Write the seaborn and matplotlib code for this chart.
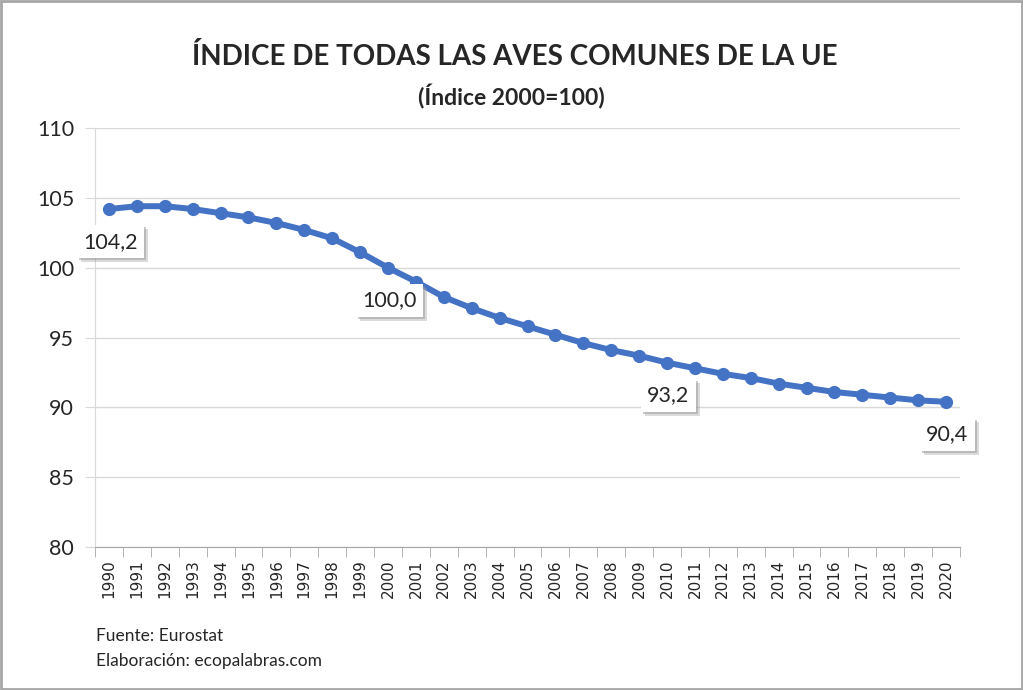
import pandas as pd
import seaborn as sns
import matplotlib.pyplot as plt
import matplotlib.patheffects as pe
from matplotlib.patches import Rectangle

years = list(range(1990, 2021))
indice = [104.2, 104.4, 104.4, 104.2, 103.9, 103.6, 103.2, 102.7, 102.1, 101.1,
          100.0, 99.0, 97.9, 97.1, 96.4, 95.8, 95.2, 94.6, 94.1, 93.7,
          93.2, 92.8, 92.4, 92.1, 91.7, 91.4, 91.1, 90.9, 90.7, 90.5, 90.4]
label_years = [1990, 2000, 2010, 2020]
y_ticks = [80, 85, 90, 95, 100, 105, 110]

df = pd.DataFrame({'Año': years, 'Índice': indice})

sns.set_style('white')
plt.rcParams['font.family'] = ['Lato', 'DejaVu Sans']

fig = plt.figure(figsize=(10.23, 6.9), dpi=100)
ax = fig.add_axes([0.0929, 0.2072, 0.8455, 0.6073])

sns.lineplot(data=df, x='Año', y='Índice', ax=ax, color='#4472C4', linewidth=4.3,
             marker='o', markersize=9.5, markeredgewidth=0)

ax.set_xlim(1989.5, 2020.5)
ax.set_ylim(80, 110)
ax.set_yticks(y_ticks)
ax.set_yticklabels([str(v) for v in y_ticks], fontsize=15.5)
ax.yaxis.grid(True, color='#d9d9d9', linewidth=1)
ax.tick_params(axis='y', length=7, color='#d9d9d9', pad=8, left=True)

ax.set_xticks(years)
ax.set_xticklabels([str(y) for y in years], rotation=90, fontsize=11,
                   family='DejaVu Sans')
ax.set_xticks([y - 0.5 for y in years] + [2020.5], minor=True)
ax.tick_params(axis='x', which='major', length=0, pad=9)
ax.tick_params(axis='x', which='minor', length=7, color='#a6a6a6', bottom=True)

for s in ['top', 'right']:
    ax.spines[s].set_visible(False)
ax.spines['left'].set_color('#d9d9d9')
ax.spines['bottom'].set_color('#a6a6a6')
ax.set_xlabel('')
ax.set_ylabel('')

for yr in label_years:
    val = indice[years.index(yr)]
    t = ax.annotate(f'{val:.1f}'.replace('.', ','), xy=(yr, val), xytext=(1, -23.5),
                    textcoords='offset points', ha='center', va='center', fontsize=15.5,
                    zorder=5,
                    bbox=dict(boxstyle='square,pad=0.3', fc='white', ec='none'))
    t.get_bbox_patch().set_path_effects([
        pe.withSimplePatchShadow(offset=(3, -3), shadow_rgbFace='#999999', alpha=0.35),
        pe.withSimplePatchShadow(offset=(1.5, -1.5), shadow_rgbFace='#999999', alpha=0.5),
    ])

fig.text(0.503, 0.918, 'ÍNDICE DE TODAS LAS AVES COMUNES DE LA UE', ha='center', va='center',
         fontsize=20, fontweight='bold')
fig.text(0.5, 0.86, '(Índice 2000=100)', ha='center', va='center', fontsize=16.5, fontweight='bold')
fig.text(0.094, 0.078, 'Fuente: Eurostat', ha='left', va='center', fontsize=12.5)
fig.text(0.094, 0.042, 'Elaboración: ecopalabras.com', ha='left', va='center', fontsize=12.5)

fig.patches.append(Rectangle((0.001, 0.0015), 0.998, 0.997, transform=fig.transFigure,
                             fill=False, ec='#a6a6a6', lw=2))

fig.savefig('out.png', dpi=100)
